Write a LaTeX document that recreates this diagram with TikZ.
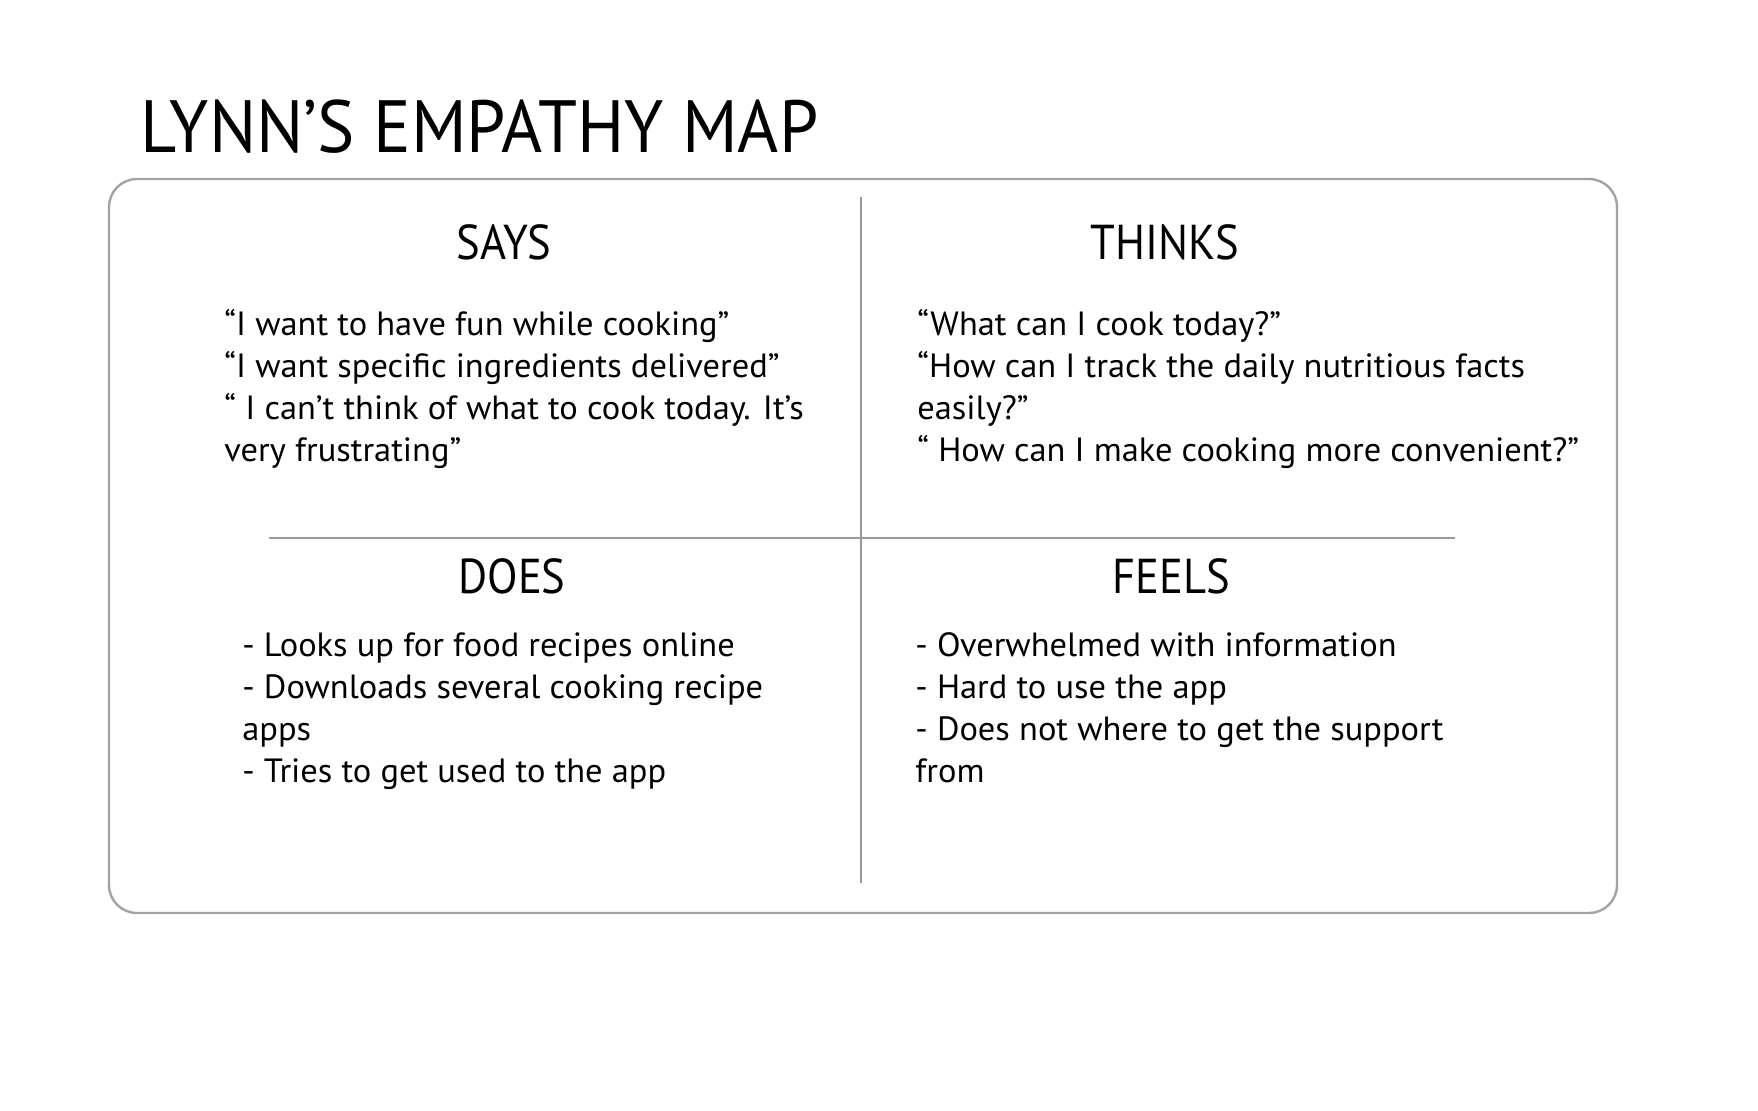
\documentclass[tikz,border=0pt]{standalone}
\usepackage{fontspec}
\setmainfont{PT Sans}
\newfontfamily\titlefont[FakeStretch=0.95]{PT Sans}
\newfontfamily\headfont[FakeStretch=0.91]{PT Sans}
\newfontfamily\bodyfont[FakeStretch=1.025]{PT Sans}
\definecolor{framegray}{HTML}{A3A3A3}
\definecolor{divgray}{HTML}{9A9A9A}
\tikzset{
  titletext/.style={anchor=base west, inner sep=0pt, font=\titlefont\fontsize{37}{44}\selectfont},
  headtext/.style={anchor=base, inner sep=0pt, font=\headfont\fontsize{24.5}{29}\selectfont},
  bodytext/.style={anchor=base west, inner sep=0pt, font=\bodyfont\fontsize{16.8}{20}\selectfont},
  frame/.style={draw=framegray, line width=1.2pt, rounded corners=14pt},
  divider/.style={draw=divgray, line width=1pt}
}
\begin{document}
\begin{tikzpicture}[x=0.5pt, y=-0.5pt]
\useasboundingbox (0,0) rectangle (1758,1110);
\fill[white] (0,0) rectangle (1758,1110);
\node[titletext] (title) at (140.5,152.7) {LYNN’S EMPATHY MAP};
\draw[frame] (109,179) rectangle (1617,913);
\coordinate (vtop) at (860.7,197);
\coordinate (vbot) at (860.7,882.7);
\coordinate (hleft) at (269,538.3);
\coordinate (hright) at (1455,538.3);
\draw[divider] (vtop) -- (vbot);
\draw[divider] (hleft) -- (hright);
\node[headtext] (says) at (504,259) {SAYS};
\node[headtext] (thinks) at (1165,259) {THINKS};
\node[headtext] (does) at (512,593) {DOES};
\node[headtext] (feels) at (1171,593) {FEELS};
\node[bodytext] (s1) at (224,335) {“I want to have fun while cooking”};
\node[bodytext] (s2) at (224,377.5) {“I want specific ingredients delivered”};
\node[bodytext] (s3) at (224,419.5) {“ I can’t think of what to cook today. It’s};
\node[bodytext] (s4) at (224,461.7) {very frustrating”};
\node[bodytext] (t1) at (917,335) {“What can I cook today?”};
\node[bodytext] (t2) at (917,377.5) {“How can I track the daily nutritious facts};
\node[bodytext] (t3) at (917,419.5) {easily?”};
\node[bodytext] (t4) at (917,461.7) {“ How can I make cooking more convenient?”};
\node[bodytext] (d1) at (242,656) {- Looks up for food recipes online};
\node[bodytext] (d2) at (242,698) {- Downloads several cooking recipe};
\node[bodytext] (d3) at (242,740) {apps};
\node[bodytext] (d4) at (242,782) {- Tries to get used to the app};
\node[bodytext] (f1) at (915,656) {- Overwhelmed with information};
\node[bodytext] (f2) at (915,698) {- Hard to use the app};
\node[bodytext] (f3) at (915,740) {- Does not where to get the support};
\node[bodytext] (f4) at (915,782) {from};
\end{tikzpicture}
\end{document}
